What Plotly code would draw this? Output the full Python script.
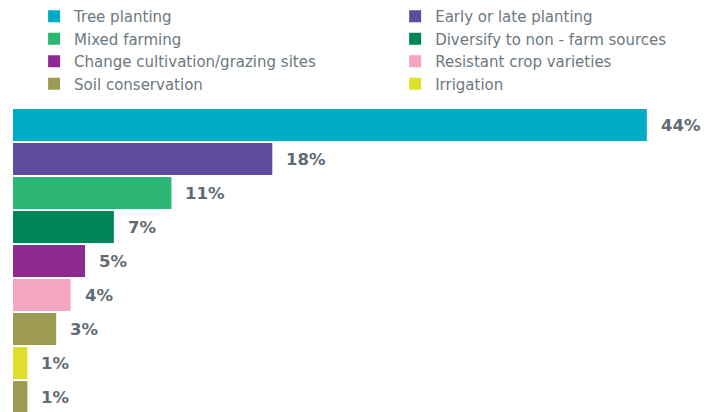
import plotly.graph_objects as go

categories = ["Tree planting", "Early or late planting", "Mixed farming",
              "Diversify to non - farm sources", "Change cultivation/grazing sites",
              "Resistant crop varieties", "Soil conservation", "Irrigation", "Other"]
values = [44, 18, 11, 7, 5, 4, 3, 1, 1]
labels = ["44%", "18%", "11%", "7%", "5%", "4%", "3%", "1%", "1%"]
colors = ["#00ABC6", "#604C9E", "#2DB774", "#008558", "#8E2A8F",
          "#F4A6C1", "#9C9A53", "#DCE02A", "#9C9A53"]
legend_column = ["legend", "legend2", "legend", "legend2", "legend",
                 "legend2", "legend", "legend2", None]

fig = go.Figure()
for i, (c, v, col, lg) in enumerate(zip(categories, values, colors, legend_column)):
    fig.add_trace(go.Bar(x=[v], y=[i], orientation="h", name=c,
                         marker=dict(color=col, line=dict(width=0)),
                         width=0.94, showlegend=lg is not None,
                         legend=lg or "legend", hoverinfo="skip"))
    fig.add_annotation(x=v, y=i, text=labels[i], showarrow=False,
                       xanchor="left", xshift=12,
                       font=dict(family="DejaVu Sans", size=16.5, color="#5F6C76", weight="bold"))

legend_font = dict(family="DejaVu Sans", size=15, color="#6D7880")
fig.update_layout(
    width=708, height=404,
    margin=dict(l=5, r=0, t=100, b=0, autoexpand=False),
    barmode="overlay",
    plot_bgcolor="white", paper_bgcolor="white",
    font=dict(family="DejaVu Sans", size=15, color="#6D7880"),
    xaxis=dict(range=[0, 48.8], visible=False, fixedrange=True),
    yaxis=dict(range=[8.44, -0.5], visible=False, fixedrange=True),
    legend=dict(orientation="v", x=0.030, y=1 + 8 / 304, yanchor="bottom", xanchor="left",
                font=legend_font, itemclick=False, tracegroupgap=0, traceorder="normal"),
    legend2=dict(orientation="v", x=0.5436, y=1 + 8 / 304, yanchor="bottom", xanchor="left",
                 font=legend_font, itemclick=False, tracegroupgap=0, traceorder="normal"),
)
fig.write_html("out.html")
